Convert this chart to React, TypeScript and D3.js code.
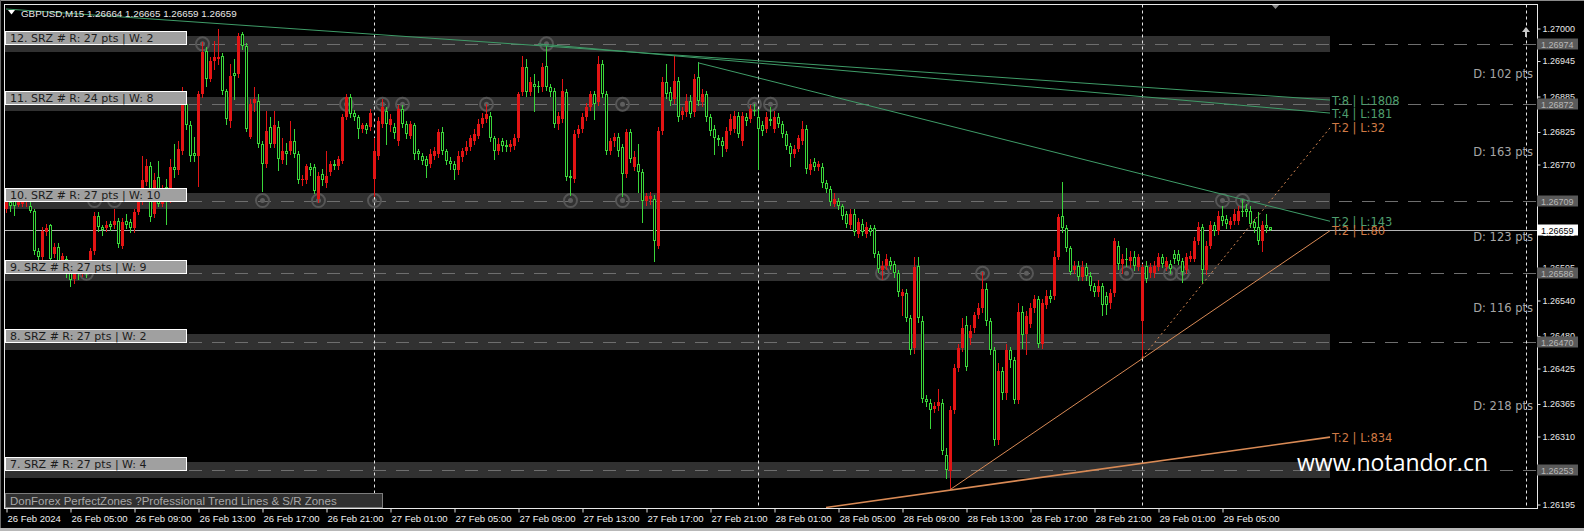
import * as d3 from "d3";
import { useEffect, useRef } from "react";

const W = 1584;
const H = 531;

// M15 bars, 26 Feb 01:00 .. 29 Feb 08:00
const opens = [
  1.26695,1.26707,1.26709,1.26702,1.26704,1.26706,1.26700,1.26692,1.26624,1.26614,
  1.26655,1.26667,1.26618,1.26631,1.26607,1.26611,1.26586,1.26577,1.26594,1.26587,
  1.26597,1.26602,1.26623,1.26683,1.26665,1.26663,1.26670,1.26668,1.26675,1.26633,
  1.26675,1.26673,1.26662,1.26690,1.26709,1.26741,1.26768,1.26687,1.26749,1.26704,
  1.26732,1.26712,1.26766,1.26760,1.26793,1.26873,1.26836,1.26790,1.26785,1.26890,
  1.26962,1.26915,1.26945,1.26949,1.26954,1.26895,1.26844,1.26925,1.26923,1.26991,
  1.26971,1.26817,1.26874,1.26878,1.26805,1.26771,1.26834,1.26805,1.26834,1.26778,
  1.26792,1.26792,1.26809,1.26788,1.26743,1.26743,1.26766,1.26766,1.26712,1.26754,
  1.26739,1.26758,1.26771,1.26768,1.26776,1.26851,1.26884,1.26857,1.26851,1.26830,
  1.26836,1.26834,1.26746,1.26785,1.26839,1.26861,1.26836,1.26834,1.26809,1.26864,
  1.26839,1.26819,1.26836,1.26792,1.26785,1.26780,1.26771,1.26785,1.26788,1.26825,
  1.26792,1.26776,1.26771,1.26760,1.26783,1.26792,1.26800,1.26810,1.26819,1.26839,
  1.26847,1.26852,1.26814,1.26792,1.26809,1.26803,1.26800,1.26802,1.26814,1.26893,
  1.26935,1.26893,1.26906,1.26903,1.26901,1.26937,1.26901,1.26895,1.26839,1.26847,
  1.26893,1.26751,1.26746,1.26822,1.26830,1.26851,1.26868,1.26890,1.26876,1.26940,
  1.26890,1.26792,1.26809,1.26817,1.26800,1.26754,1.26825,1.26766,1.26771,1.26758,
  1.26709,1.26711,1.26712,1.26633,1.26827,1.26910,1.26893,1.26881,1.26912,1.26854,
  1.26859,1.26878,1.26859,1.26918,1.26876,1.26890,1.26851,1.26830,1.26814,1.26810,
  1.26797,1.26827,1.26830,1.26852,1.26809,1.26851,1.26847,1.26862,1.26851,1.26836,
  1.26830,1.26847,1.26830,1.26851,1.26839,1.26822,1.26802,1.26788,1.26797,1.26810,
  1.26830,1.26760,1.26775,1.26766,1.26766,1.26738,1.26729,1.26704,1.26709,1.26699,
  1.26687,1.26667,1.26687,1.26653,1.26670,1.26653,1.26662,1.26662,1.26619,1.26591,
  1.26599,1.26607,1.26602,1.26586,1.26548,1.26552,1.26510,1.26459,1.26599,1.26506,
  1.26374,1.26366,1.26357,1.26361,1.26366,1.26278,1.26251,1.26354,1.26425,1.26459,
  1.26498,1.26476,1.26493,1.26515,1.26527,1.26560,1.26505,1.26456,1.26304,1.26420,
  1.26383,1.26456,1.26439,1.26371,1.26521,1.26484,1.26501,1.26527,1.26543,1.26467,
  1.26532,1.26548,1.26548,1.26614,1.26683,1.26662,1.26628,1.26591,1.26599,1.26580,
  1.26597,1.26582,1.26565,1.26555,1.26564,1.26548,1.26535,1.26552,1.26633,1.26602,
  1.26611,1.26606,1.26614,1.26597,1.26505,1.26599,1.26586,1.26586,1.26597,1.26614,
  1.26597,1.26602,1.26619,1.26619,1.26606,1.26591,1.26611,1.26611,1.26641,1.26665,
  1.26591,1.26633,1.26667,1.26658,1.26683,1.26678,1.26667,1.26675,1.26675,1.26692,
  1.26695,1.26692,1.26673,1.26665,1.26641,1.26667,1.26664,
];
const highs = [
  1.26716,1.26712,1.26714,1.26714,1.26716,1.26716,1.26709,1.26695,1.26628,1.26665,
  1.26670,1.26670,1.26638,1.26638,1.26621,1.26616,1.26591,1.26597,1.26601,1.26604,
  1.26602,1.26629,1.26690,1.26689,1.26668,1.26675,1.26675,1.26695,1.26680,1.26680,
  1.26687,1.26678,1.26695,1.26716,1.26785,1.26780,1.26775,1.26755,1.26776,1.26736,
  1.26746,1.26780,1.26805,1.26810,1.26901,1.26881,1.26844,1.26817,1.26895,1.26977,
  1.26969,1.26952,1.26979,1.26999,1.26959,1.26898,1.26940,1.26949,1.26993,1.26994,
  1.26976,1.26881,1.26901,1.26890,1.26810,1.26861,1.26851,1.26861,1.26844,1.26814,
  1.26807,1.26844,1.26830,1.26793,1.26753,1.26771,1.26773,1.26771,1.26758,1.26763,
  1.26793,1.26776,1.26778,1.26785,1.26856,1.26890,1.26890,1.26862,1.26854,1.26841,
  1.26841,1.26864,1.26814,1.26851,1.26881,1.26868,1.26856,1.26841,1.26871,1.26871,
  1.26844,1.26844,1.26841,1.26797,1.26790,1.26785,1.26797,1.26800,1.26830,1.26834,
  1.26797,1.26783,1.26776,1.26792,1.26798,1.26809,1.26820,1.26830,1.26847,1.26857,
  1.26873,1.26859,1.26819,1.26814,1.26814,1.26812,1.26812,1.26822,1.26893,1.26954,
  1.26949,1.26918,1.26923,1.26912,1.26942,1.26971,1.26906,1.26900,1.26859,1.26915,
  1.26898,1.26760,1.26829,1.26837,1.26857,1.26874,1.26895,1.26895,1.26954,1.26947,
  1.26895,1.26815,1.26824,1.26824,1.26805,1.26830,1.26830,1.26793,1.26805,1.26763,
  1.26722,1.26724,1.26719,1.26834,1.26918,1.26940,1.26901,1.26954,1.26918,1.26868,
  1.26890,1.26888,1.26923,1.26944,1.26898,1.26895,1.26856,1.26837,1.26820,1.26817,
  1.26834,1.26856,1.26861,1.26859,1.26859,1.26857,1.26871,1.26873,1.26864,1.26844,
  1.26859,1.26868,1.26861,1.26857,1.26844,1.26827,1.26807,1.26803,1.26820,1.26844,
  1.26836,1.26780,1.26781,1.26776,1.26773,1.26743,1.26734,1.26721,1.26714,1.26704,
  1.26692,1.26694,1.26694,1.26680,1.26677,1.26672,1.26668,1.26668,1.26624,1.26606,
  1.26618,1.26614,1.26607,1.26591,1.26560,1.26559,1.26515,1.26614,1.26614,1.26513,
  1.26381,1.26374,1.26368,1.26391,1.26374,1.26290,1.26361,1.26432,1.26467,1.26510,
  1.26513,1.26498,1.26521,1.26535,1.26589,1.26569,1.26510,1.26461,1.26434,1.26428,
  1.26467,1.26462,1.26445,1.26535,1.26530,1.26523,1.26535,1.26550,1.26548,1.26543,
  1.26557,1.26557,1.26623,1.26687,1.26741,1.26667,1.26633,1.26606,1.26606,1.26607,
  1.26604,1.26589,1.26570,1.26574,1.26570,1.26555,1.26560,1.26645,1.26640,1.26619,
  1.26628,1.26623,1.26623,1.26619,1.26602,1.26606,1.26604,1.26607,1.26621,1.26619,
  1.26614,1.26609,1.26626,1.26626,1.26612,1.26621,1.26623,1.26648,1.26672,1.26670,
  1.26640,1.26675,1.26673,1.26692,1.26699,1.26685,1.26682,1.26694,1.26700,1.26712,
  1.26704,1.26699,1.26678,1.26689,1.26675,1.26687,1.26665,
];
const lows = [
  1.26689,1.26692,1.26685,1.26699,1.26700,1.26700,1.26689,1.26618,1.26607,1.26607,
  1.26651,1.26607,1.26614,1.26601,1.26602,1.26580,1.26565,1.26570,1.26577,1.26582,
  1.26580,1.26597,1.26618,1.26658,1.26651,1.26658,1.26660,1.26663,1.26631,1.26628,
  1.26663,1.26656,1.26656,1.26687,1.26704,1.26736,1.26675,1.26682,1.26699,1.26699,
  1.26670,1.26707,1.26749,1.26754,1.26788,1.26830,1.26776,1.26776,1.26734,1.26884,
  1.26903,1.26912,1.26932,1.26940,1.26890,1.26839,1.26834,1.26881,1.26918,1.26966,
  1.26827,1.26814,1.26861,1.26800,1.26726,1.26766,1.26800,1.26800,1.26760,1.26773,
  1.26771,1.26787,1.26783,1.26738,1.26736,1.26738,1.26753,1.26721,1.26707,1.26736,
  1.26732,1.26753,1.26763,1.26763,1.26773,1.26847,1.26851,1.26846,1.26814,1.26825,
  1.26824,1.26829,1.26716,1.26780,1.26834,1.26805,1.26827,1.26814,1.26803,1.26834,
  1.26814,1.26814,1.26780,1.26780,1.26770,1.26749,1.26766,1.26780,1.26783,1.26787,
  1.26771,1.26763,1.26746,1.26754,1.26776,1.26787,1.26795,1.26805,1.26814,1.26834,
  1.26842,1.26809,1.26780,1.26787,1.26793,1.26792,1.26793,1.26797,1.26809,1.26888,
  1.26886,1.26888,1.26861,1.26893,1.26895,1.26896,1.26886,1.26834,1.26830,1.26842,
  1.26744,1.26719,1.26741,1.26817,1.26825,1.26846,1.26862,1.26847,1.26871,1.26884,
  1.26788,1.26787,1.26802,1.26785,1.26716,1.26749,1.26775,1.26760,1.26724,1.26673,
  1.26702,1.26704,1.26606,1.26628,1.26822,1.26883,1.26871,1.26874,1.26844,1.26847,
  1.26852,1.26851,1.26852,1.26871,1.26869,1.26844,1.26820,1.26788,1.26803,1.26785,
  1.26793,1.26822,1.26825,1.26817,1.26803,1.26837,1.26842,1.26854,1.26763,1.26820,
  1.26825,1.26837,1.26825,1.26834,1.26817,1.26797,1.26768,1.26783,1.26792,1.26805,
  1.26756,1.26754,1.26760,1.26761,1.26732,1.26724,1.26702,1.26699,1.26694,1.26678,
  1.26665,1.26662,1.26650,1.26648,1.26650,1.26648,1.26651,1.26614,1.26589,1.26577,
  1.26594,1.26594,1.26580,1.26547,1.26515,1.26505,1.26449,1.26452,1.26503,1.26369,
  1.26361,1.26324,1.26351,1.26354,1.26280,1.26239,1.26222,1.26349,1.26420,1.26454,
  1.26422,1.26467,1.26486,1.26510,1.26521,1.26498,1.26449,1.26295,1.26298,1.26374,
  1.26374,1.26428,1.26366,1.26366,1.26459,1.26450,1.26496,1.26521,1.26462,1.26459,
  1.26527,1.26537,1.26543,1.26611,1.26656,1.26623,1.26584,1.26586,1.26574,1.26574,
  1.26575,1.26557,1.26548,1.26547,1.26515,1.26518,1.26527,1.26547,1.26594,1.26586,
  1.26599,1.26597,1.26591,1.26592,1.26445,1.26572,1.26580,1.26580,1.26592,1.26597,
  1.26591,1.26587,1.26604,1.26601,1.26572,1.26586,1.26606,1.26606,1.26636,1.26572,
  1.26584,1.26628,1.26651,1.26653,1.26668,1.26663,1.26662,1.26670,1.26670,1.26683,
  1.26683,1.26665,1.26655,1.26635,1.26624,1.26656,1.26659,
];
const closes = [
  1.26709,1.26699,1.26700,1.26711,1.26711,1.26712,1.26692,1.26624,1.26614,1.26658,
  1.26662,1.26611,1.26631,1.26606,1.26616,1.26586,1.26574,1.26591,1.26584,1.26597,
  1.26591,1.26623,1.26683,1.26665,1.26660,1.26668,1.26665,1.26675,1.26636,1.26673,
  1.26668,1.26662,1.26690,1.26709,1.26743,1.26768,1.26682,1.26743,1.26704,1.26729,
  1.26712,1.26766,1.26760,1.26797,1.26873,1.26836,1.26785,1.26785,1.26890,1.26960,
  1.26915,1.26945,1.26952,1.26952,1.26895,1.26847,1.26920,1.26920,1.26988,1.26971,
  1.26830,1.26873,1.26881,1.26805,1.26771,1.26827,1.26805,1.26836,1.26780,1.26792,
  1.26788,1.26809,1.26788,1.26743,1.26746,1.26768,1.26760,1.26726,1.26751,1.26743,
  1.26751,1.26771,1.26768,1.26780,1.26851,1.26884,1.26856,1.26851,1.26830,1.26836,
  1.26829,1.26857,1.26792,1.26844,1.26868,1.26839,1.26847,1.26824,1.26864,1.26839,
  1.26822,1.26839,1.26788,1.26787,1.26776,1.26768,1.26788,1.26793,1.26825,1.26792,
  1.26776,1.26771,1.26760,1.26785,1.26792,1.26800,1.26814,1.26822,1.26839,1.26849,
  1.26856,1.26814,1.26792,1.26805,1.26802,1.26800,1.26805,1.26814,1.26890,1.26935,
  1.26893,1.26910,1.26901,1.26901,1.26935,1.26901,1.26893,1.26839,1.26852,1.26895,
  1.26749,1.26748,1.26822,1.26830,1.26851,1.26868,1.26890,1.26873,1.26940,1.26890,
  1.26793,1.26809,1.26817,1.26792,1.26754,1.26825,1.26780,1.26783,1.26758,1.26709,
  1.26716,1.26717,1.26640,1.26827,1.26910,1.26890,1.26878,1.26912,1.26851,1.26861,
  1.26878,1.26856,1.26915,1.26878,1.26890,1.26851,1.26827,1.26814,1.26812,1.26802,
  1.26827,1.26847,1.26852,1.26822,1.26852,1.26844,1.26864,1.26861,1.26830,1.26827,
  1.26851,1.26844,1.26851,1.26839,1.26822,1.26802,1.26788,1.26797,1.26814,1.26830,
  1.26763,1.26771,1.26766,1.26770,1.26738,1.26729,1.26707,1.26712,1.26700,1.26683,
  1.26670,1.26687,1.26656,1.26673,1.26656,1.26665,1.26656,1.26619,1.26594,1.26599,
  1.26611,1.26599,1.26586,1.26555,1.26555,1.26510,1.26456,1.26597,1.26510,1.26374,
  1.26369,1.26354,1.26361,1.26369,1.26285,1.26253,1.26354,1.26425,1.26459,1.26493,
  1.26428,1.26489,1.26515,1.26527,1.26560,1.26505,1.26456,1.26304,1.26420,1.26383,
  1.26456,1.26439,1.26371,1.26521,1.26481,1.26513,1.26527,1.26543,1.26467,1.26535,
  1.26548,1.26543,1.26614,1.26682,1.26662,1.26628,1.26589,1.26599,1.26580,1.26597,
  1.26582,1.26565,1.26555,1.26565,1.26532,1.26532,1.26552,1.26640,1.26602,1.26611,
  1.26609,1.26614,1.26599,1.26614,1.26597,1.26577,1.26597,1.26599,1.26614,1.26602,
  1.26606,1.26594,1.26611,1.26606,1.26589,1.26614,1.26616,1.26641,1.26665,1.26591,
  1.26633,1.26667,1.26658,1.26683,1.26675,1.26670,1.26675,1.26687,1.26692,1.26690,
  1.26690,1.26670,1.26662,1.26640,1.26667,1.26662,1.26659,
];

const timeLabels = [
  "26 Feb 2024", "26 Feb 05:00", "26 Feb 09:00", "26 Feb 13:00", "26 Feb 17:00",
  "26 Feb 21:00", "27 Feb 01:00", "27 Feb 05:00", "27 Feb 09:00", "27 Feb 13:00",
  "27 Feb 17:00", "27 Feb 21:00", "28 Feb 01:00", "28 Feb 05:00", "28 Feb 09:00",
  "28 Feb 13:00", "28 Feb 17:00", "28 Feb 21:00", "29 Feb 01:00", "29 Feb 05:00",
];
const timeTickBars = [0, 16, 32, 48, 64, 80, 96, 112, 128, 144, 160, 176, 192, 208, 224, 240, 256, 272, 288, 304];
const daySeparatorBars = [92, 188, 284, 380];

const priceTicks = [
  1.27, 1.26945, 1.26885, 1.26825, 1.2677, 1.2671, 1.26655, 1.26595,
  1.2654, 1.2648, 1.26425, 1.26365, 1.2631, 1.2625, 1.26195,
];

// support / resistance zones
const zoneNumbers = [12, 11, 10, 9, 8, 7];
const zonePrices = [1.26974, 1.26872, 1.26709, 1.26586, 1.2647, 1.26253];
const zoneRanges = [27, 24, 27, 27, 27, 27];
const zoneWeights = [2, 8, 10, 9, 2, 4];
const zoneTouches = [
  [49, 135],
  [85, 94, 99, 120, 154, 187, 191],
  [22, 27, 64, 78, 92, 141, 154, 304, 309],
  [20, 219, 244, 255, 280, 291, 294],
  [],
  [],
];
const zoneDistances = [102, 163, 123, 116, 218];
const zoneEndBar = 331;

// trend lines
const trendNames = ["T:8 | L:1808", "T:4 | L:181", "T:2 | L:32", "T:2 | L:143", "T:2 | L:80", "T:2 | L:834"];
const trendFromBar = [0, 133, 284, 173, 236, 205];
const trendFromPrice = [1.27033, 1.26974, 1.26443, 1.26942, 1.2622, 1.2619];
const trendToPrice = [1.26879, 1.26857, 1.26832, 1.26674, 1.26658, 1.26309];
const trendSide = ["res", "res", "sup", "res", "sup", "sup"];

const symbolHeader = "GBPUSD,M15  1.26664 1.26665 1.26659 1.26659";
const infoText = "DonForex PerfectZones ?Professional Trend Lines & S/R Zones";
const watermark = "www.notandor.cn";

export default function App() {
    const ref = useRef<SVGSVGElement | null>(null);

    useEffect(() => {
        const svg = d3.select(ref.current);
        svg.selectAll("*").remove();

        const left = 4.5, right = 1537.5, top = 4.5, bottom = 508.5;
        const x = d3.scaleLinear().domain([0, 380]).range([6, 1526]);
        const y = d3.scaleLinear().domain([1.26195, 1.27]).range([504.5, 28.5]);
        const fmt = d3.format(".5f");
        const sans = "'Liberation Sans', Arial, sans-serif";
        const dv = "'DejaVu Sans', Verdana, sans-serif";
        const upColor = "#e31414";
        const downColor = "#3ad63a";

        svg.append("rect").attr("width", W).attr("height", H).attr("fill", "#000");

        svg.append("defs").append("clipPath").attr("id", "plot")
            .append("rect").attr("x", left).attr("y", top)
            .attr("width", right - left).attr("height", bottom - top);

        const plot = svg.append("g").attr("clip-path", "url(#plot)");

        // zone bands
        zonePrices.forEach((p, i) => {
            const half = zoneRanges[i] / 2 / 100000;
            const y0 = Math.round(y(p + half));
            const y1 = Math.round(y(p - half));
            plot.append("rect")
                .attr("x", 5).attr("y", y0)
                .attr("width", x(zoneEndBar) - 5).attr("height", y1 - y0)
                .attr("fill", "#313131");
        });
        zonePrices.forEach((p) => {
            const yy = Math.round(y(p)) + 0.5;
            plot.append("line")
                .attr("x1", 5).attr("x2", right).attr("y1", yy).attr("y2", yy)
                .attr("stroke", "#6e6e6e").attr("stroke-dasharray", "13,10");
        });

        // touch markers
        zoneTouches.forEach((bars, i) => {
            bars.forEach((b) => {
                plot.append("circle").attr("cx", x(b) + 0.5).attr("cy", y(zonePrices[i]))
                    .attr("r", 6.5).attr("fill", "none").attr("stroke", "#565656").attr("stroke-width", 2);
                plot.append("circle").attr("cx", x(b) + 0.5).attr("cy", y(zonePrices[i]))
                    .attr("r", 2.5).attr("fill", "#5e5e5e");
            });
        });

        // current price line
        const last = closes[closes.length - 1];
        const yLast = Math.round(y(last)) + 0.5;
        plot.append("line").attr("x1", left).attr("x2", right).attr("y1", yLast).attr("y2", yLast)
            .attr("stroke", "#b4b4b4");

        // day separators
        daySeparatorBars.forEach((b) => {
            plot.append("line").attr("x1", x(b) + 0.5).attr("x2", x(b) + 0.5)
                .attr("y1", top).attr("y2", bottom)
                .attr("stroke", "#e6e6e6").attr("stroke-dasharray", "3,3");
        });

        // candles
        const candles = plot.append("g");
        closes.forEach((c, i) => {
            const o = opens[i];
            const up = c >= o;
            const col = up ? upColor : downColor;
            const cx = x(i);
            const yh = Math.round(y(highs[i]));
            const yl = Math.round(y(lows[i]));
            candles.append("rect").attr("x", cx).attr("y", yh)
                .attr("width", 1).attr("height", Math.max(1, yl - yh + 1)).attr("fill", col);
            const bt = Math.round(y(Math.max(o, c)));
            const bb = Math.round(y(Math.min(o, c)));
            if (up || bb - bt < 2) {
                candles.append("rect").attr("x", cx - 1).attr("y", bt)
                    .attr("width", 3).attr("height", Math.max(1, bb - bt)).attr("fill", col);
            } else {
                candles.append("rect").attr("x", cx - 0.5).attr("y", bt + 0.5)
                    .attr("width", 2).attr("height", bb - bt - 1)
                    .attr("fill", "#000").attr("stroke", col);
            }
        });

        // trend lines
        trendNames.forEach((name, i) => {
            const res = trendSide[i] === "res";
            const ln = plot.append("line")
                .attr("x1", x(trendFromBar[i])).attr("y1", y(trendFromPrice[i]))
                .attr("x2", x(zoneEndBar)).attr("y2", y(trendToPrice[i]))
                .attr("stroke", res ? "#3f9c68" : "#d98a55")
                .attr("stroke-width", i === 5 ? 1.6 : 1);
            if (i === 2) ln.attr("stroke-dasharray", "2,3");
            svg.append("text")
                .attr("x", x(zoneEndBar) + 2).attr("y", y(trendToPrice[i]) + 4.5)
                .attr("fill", res ? "#4f9e6e" : "#cf7a45")
                .style("font", `11.5px ${dv}`)
                .text(name);
        });

        // zone labels
        zonePrices.forEach((p, i) => {
            const yb = Math.round(y(p));
            svg.append("rect").attr("x", 5.5).attr("y", yb - 13 + 0.5)
                .attr("width", 181).attr("height", 13)
                .attr("fill", "#a0a0a0").attr("stroke", "#ffffff");
            svg.append("text").attr("x", 10).attr("y", yb - 2.5)
                .attr("fill", "#1c1c1c").style("font", `11px ${dv}`)
                .text(`${zoneNumbers[i]}. SRZ # R: ${zoneRanges[i]} pts | W: ${zoneWeights[i]}`);
        });

        // distance labels between zones
        zoneDistances.forEach((d, i) => {
            const mid = (zonePrices[i] + zonePrices[i + 1]) / 2;
            svg.append("text").attr("x", 1533).attr("y", y(mid) + 4)
                .attr("text-anchor", "end").attr("fill", "#a6a6a6")
                .style("font", `11.5px ${dv}`)
                .text(`D: ${d} pts`);
        });

        // watermark
        svg.append("text").attr("x", 1297).attr("y", 471)
            .attr("fill", "#ffffff").style("font", "23px 'Open Sans', sans-serif")
            .text(watermark);

        // info box
        svg.append("rect").attr("x", 5.5).attr("y", 493.5).attr("width", 377).attr("height", 14)
            .attr("fill", "#303030").attr("stroke", "#7c7c7c");
        svg.append("text").attr("x", 10).attr("y", 505)
            .attr("fill", "#a8a8a8").style("font", `11.5px ${sans}`)
            .text(infoText);

        // header
        svg.append("path").attr("d", "M8,10 L15,10 L11.5,14.5 Z").attr("fill", "#ffffff");
        svg.append("text").attr("x", 21).attr("y", 17)
            .attr("fill", "#e8e8e8").style("font", `9.8px ${sans}`)
            .text(symbolHeader);

        // shift marker and scale arrow
        svg.append("path").attr("d", "M1271,4 L1280,4 L1275.5,9 Z").attr("fill", "#8a8a8a");
        svg.append("path").attr("d", "M1522,32 L1526,27 L1530,32 Z").attr("fill", "#c8c8c8");
        svg.append("rect").attr("x", 1525).attr("y", 31).attr("width", 2).attr("height", 6).attr("fill", "#c8c8c8");

        // frame
        svg.append("rect").attr("x", left).attr("y", top)
            .attr("width", right - left).attr("height", bottom - top)
            .attr("fill", "none").attr("stroke", "#e8e8e8");

        // x axis
        const gx = svg.append("g").attr("transform", `translate(0,${bottom})`)
            .call(d3.axisBottom(x).tickValues(timeTickBars).tickSize(4)
                .tickFormat((_d, i) => timeLabels[i]));
        gx.select(".domain").remove();
        gx.selectAll(".tick line").attr("stroke", "#e0e0e0").attr("transform", "translate(0.5,0)");
        gx.selectAll(".tick text")
            .attr("text-anchor", "start").attr("dx", 1)
            .attr("fill", "#f0f0f0").style("font", `9.5px ${sans}`);

        // y axis
        const gy = svg.append("g").attr("transform", `translate(${right},0)`)
            .call(d3.axisRight(y).tickValues(priceTicks).tickSize(3).tickFormat((d) => fmt(d as number)));
        gy.select(".domain").remove();
        gy.selectAll(".tick line").attr("stroke", "#e0e0e0");
        gy.selectAll(".tick text").attr("x", 5)
            .attr("fill", "#e8e8e8").style("font", `9px ${sans}`);

        // zone price boxes and current price box
        zonePrices.forEach((p) => {
            const yc = Math.round(y(p));
            svg.append("rect").attr("x", 1537).attr("y", yc - 5.5)
                .attr("width", 41).attr("height", 11).attr("fill", "#5a5a5a");
            svg.append("text").attr("x", 1541).attr("y", yc + 3.5)
                .attr("fill", "#b8b8b8").style("font", `9px ${sans}`)
                .text(fmt(p));
        });
        svg.append("rect").attr("x", 1537).attr("y", Math.round(y(last)) - 5.5)
            .attr("width", 41).attr("height", 11).attr("fill", "#ffffff");
        svg.append("text").attr("x", 1541).attr("y", Math.round(y(last)) + 3.5)
            .attr("fill", "#000000").style("font", `9px ${sans}`)
            .text(fmt(last));

        // window edges
        svg.append("rect").attr("x", 0).attr("y", 0).attr("width", W).attr("height", 1).attr("fill", "#8a8a8a");
        svg.append("rect").attr("x", 0).attr("y", 0).attr("width", 1).attr("height", H).attr("fill", "#6a6a6a");
        svg.append("rect").attr("x", 0).attr("y", 528).attr("width", W).attr("height", 3).attr("fill", "#b8b8b8");
    }, []);

    return (
        <div style={{ position: "fixed", left: 0, top: 0, width: W, height: H, background: "#000" }}>
            <svg ref={ref} width={W} height={H} style={{ display: "block" }} />
        </div>
    );
}
